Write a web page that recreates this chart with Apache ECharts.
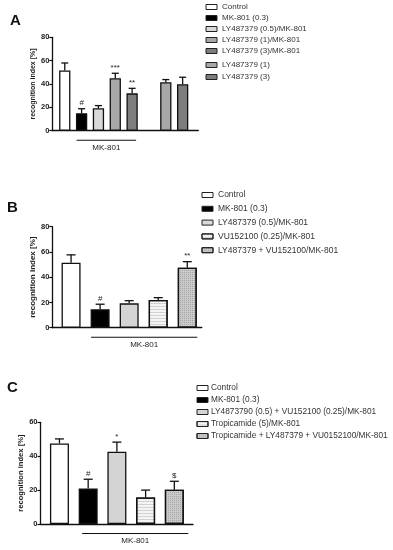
<!DOCTYPE html>
<html><head><meta charset="utf-8">
<script src="https://cdn.jsdelivr.net/npm/echarts@6/dist/echarts.min.js"></script>
<style>html,body{margin:0;padding:0;background:#fff}#c{width:393px;height:550px}</style>
</head><body><div id="c"></div>
<script>
// ---------- DATA ----------
// Panel A
const aNames = ['Control','MK-801 (0.3)','LY487379 (0.5)/MK-801','LY487379 (1)/MK-801','LY487379 (3)/MK-801','LY487379 (1)','LY487379 (3)'];
const aSlots = [0,1,2,3,4,6,7];
const aValues = [51.5, 15, 19.2, 45, 32, 41.5, 39.8];
const aErrors = [6.5, 3.8, 2.3, 4.2, 4.3, 2.3, 6];
const aMarks = ['', '#', '', '***', '**', '', ''];
const aTicks = [0, 20, 40, 60, 80];
// Panel B
const bNames = ['Control','MK-801 (0.3)','LY487379 (0.5)/MK-801','VU152100 (0.25)/MK-801','LY487379 + VU152100/MK-801'];
const bSlots = [0,1,2,3,4];
const bValues = [51.5, 14.6, 19.3, 21.9, 47.5];
const bErrors = [6.2, 4, 2.1, 1.9, 4.8];
const bMarks = ['', '#', '', '', '**'];
const bTicks = [0, 20, 40, 60, 80];
// Panel C
const cNames = ['Control','MK-801 (0.3)','LY4873790 (0.5) + VU152100 (0.25)/MK-801','Tropicamide (5)/MK-801','Tropicamide + LY487379 + VU0152100/MK-801'];
const cSlots = [0,1,2,3,4];
const cValues = [47.5, 21, 42.6, 15.7, 20.2];
const cErrors = [2.7, 5.4, 5.7, 4.3, 5];
const cMarks = ['', '#', '*', '', '$'];
const cTicks = [0, 20, 40, 60];
// group bracket (first and last slot under the line)
const groupLabel = 'MK-801';
const aGroup = [1, 4], bGroup = [1, 4], cGroup = [1, 4];
const yName = 'recognition index [%]';

// ---------- STYLE ----------
const FONT = 'Liberation Sans, Arial, sans-serif';
const hLines = {symbol:'rect', symbolSize:1, dashArrayX:[1,0], dashArrayY:[1,1.5], color:'rgba(0,0,0,0.14)'};
const dots = {symbol:'rect', symbolSize:1, dashArrayX:[1,1], dashArrayY:[1,1], color:'rgba(0,0,0,0.18)'};
const aFill = [{c:'#ffffff'},{c:'#000000'},{c:'#d9d9d9'},{c:'#a8a8a8'},{c:'#7d7d7d'},{c:'#a8a8a8'},{c:'#7d7d7d'}];
const bFill = [{c:'#ffffff'},{c:'#000000'},{c:'#d4d4d4'},{c:'#f4f4f4', d:hLines},{c:'#cacaca', d:dots}];
const cFill = [{c:'#ffffff'},{c:'#000000'},{c:'#d4d4d4'},{c:'#f4f4f4', d:hLines},{c:'#cacaca', d:dots}];

const panels = [
  {names:aNames, slots:aSlots, values:aValues, errors:aErrors, marks:aMarks, ticks:aTicks, fill:aFill, group:aGroup,
   grid:{left:52.3, top:37.3, width:146, height:93.4}, xr:[-0.74, 7.93], bw:11.3, cap:3.5, ext:[5,4], nameGap:10.5, nameFs:7,
   letter:{t:'A', l:10, top:13}, legends:[{items:[0,1,2,3,4], left:205.5, top:2.5, gap:2, fs:8},{items:[5,6], left:205.5, top:60.5, gap:3, fs:8}]},
  {names:bNames, slots:bSlots, values:bValues, errors:bErrors, marks:bMarks, ticks:bTicks, fill:bFill, group:bGroup,
   grid:{left:52.3, top:226.7, width:149.5, height:101}, xr:[-0.646, 4.5], bw:19, cap:4.5, ext:[9,10], nameGap:10.5, nameFs:8,
   letter:{t:'B', l:7, top:200}, legends:[{items:[0,1,2,3,4], left:201.5, top:190.5, gap:4.8, fs:8.5}]},
  {names:cNames, slots:cSlots, values:cValues, errors:cErrors, marks:cMarks, ticks:cTicks, fill:cFill, group:cGroup,
   grid:{left:40.5, top:422.3, width:152.5, height:101.7}, xr:[-0.66, 4.65], bw:19, cap:4.5, ext:[6,14], nameGap:10, nameFs:7.6,
   letter:{t:'C', l:7, top:380}, legends:[{items:[0,1,2,3,4], left:196.5, top:383.5, gap:3, fs:8.3, pad:-2}]}
];

const grid = [], xAxis = [], yAxis = [], series = [], legend = [], title = [];
panels.forEach((p, k) => {
  grid.push(Object.assign({containLabel:false}, p.grid));
  xAxis.push({type:'value', gridIndex:k, min:p.xr[0], max:p.xr[1],
    axisLine:{show:true, onZero:false, lineStyle:{color:'#111', width:1.3}},
    axisTick:{show:false}, axisLabel:{show:false}, splitLine:{show:false}});
  const tk = p.ticks;
  yAxis.push({type:'value', gridIndex:k, min:tk[0], max:tk[tk.length-1], interval:tk[1]-tk[0],
    axisLine:{show:true, onZero:false, lineStyle:{color:'#111', width:1.3}},
    axisTick:{show:true, length:3, lineStyle:{color:'#111', width:1.2}},
    axisLabel:{fontFamily:FONT, fontWeight:'bold', fontSize:7.5, color:'#222', margin:3}, splitLine:{show:false},
    name:yName, nameLocation:'middle', nameGap:p.nameGap,
    nameTextStyle:{fontFamily:FONT, fontWeight:'bold', fontSize:p.nameFs, color:'#222'}});
  p.names.forEach((nm, i) => {
    const f = p.fill[i];
    const st = {color:f.c, borderColor:'#111', borderWidth:1.3};
    if (f.d) st.decal = f.d;
    series.push({type:'bar', name:nm, xAxisIndex:k, yAxisIndex:k, barWidth:p.bw, barGap:'-100%',
      data:[[p.slots[i], p.values[i]]], itemStyle:st, silent:true, animation:false, z:2});
  });
  // error bars + significance marks
  series.push({type:'custom', xAxisIndex:k, yAxisIndex:k, animation:false, silent:true, clip:false, z:3,
    data:p.slots.map((s, i) => [s, p.values[i], p.errors[i]]),
    renderItem:(params, api) => {
      const x = api.value(0), v = api.value(1), e = api.value(2);
      const a = api.coord([x, v]), b = api.coord([x, v + e]);
      const mk = p.marks[params.dataIndex];
      const ch = [
        {type:'line', shape:{x1:a[0], y1:a[1], x2:b[0], y2:b[1]}, style:{stroke:'#111', lineWidth:1.3}},
        {type:'line', shape:{x1:b[0]-p.cap, y1:b[1], x2:b[0]+p.cap, y2:b[1]}, style:{stroke:'#111', lineWidth:1.3}}
      ];
      if (mk) ch.push({type:'text', style:{text:mk, x:b[0], y:b[1]-1.5, align:'center', verticalAlign:'bottom',
        fontFamily:FONT, fontSize:8, fill:'#222'}});
      return {type:'group', children:ch};
    }});
  // group bracket
  series.push({type:'custom', xAxisIndex:k, yAxisIndex:k, animation:false, silent:true, clip:false, z:3,
    data:[[p.group[0], p.group[1]]],
    renderItem:(params, api) => {
      const s = api.coord([api.value(0), 0]), e = api.coord([api.value(1), 0]);
      const x1 = s[0] - p.ext[0], x2 = e[0] + p.ext[1], y = s[1] + 9.5;
      return {type:'group', children:[
        {type:'line', shape:{x1:x1, y1:y, x2:x2, y2:y}, style:{stroke:'#111', lineWidth:1.1}},
        {type:'text', style:{text:groupLabel, x:(x1+x2)/2, y:y+3.5, align:'center', verticalAlign:'top', fontFamily:FONT, fontSize:8, fill:'#222'}}
      ]};
    }});
  p.legends.forEach(L => {
    legend.push({orient:'vertical', left:L.left, top:L.top, padding:0, itemGap:L.gap, itemWidth:11, itemHeight:5, icon:'rect',
      selectedMode:false, data:L.items.map(i => p.names[i]),
      itemStyle:{borderColor:'#222', borderWidth:1},
      textStyle:{fontFamily:FONT, fontSize:L.fs, color:'#333', padding:[0,0,0,L.pad || 0], lineHeight:9}});
  });
  title.push({text:p.letter.t, left:p.letter.l, top:p.letter.top, padding:0,
    textStyle:{fontFamily:FONT, fontWeight:'bold', fontSize:15, color:'#111'}});
});

const chart = echarts.init(document.getElementById('c'), null, {renderer:'canvas'});
chart.setOption({animation:false, backgroundColor:'#fff', title, grid, xAxis, yAxis, series, legend});
</script>
</body></html>
